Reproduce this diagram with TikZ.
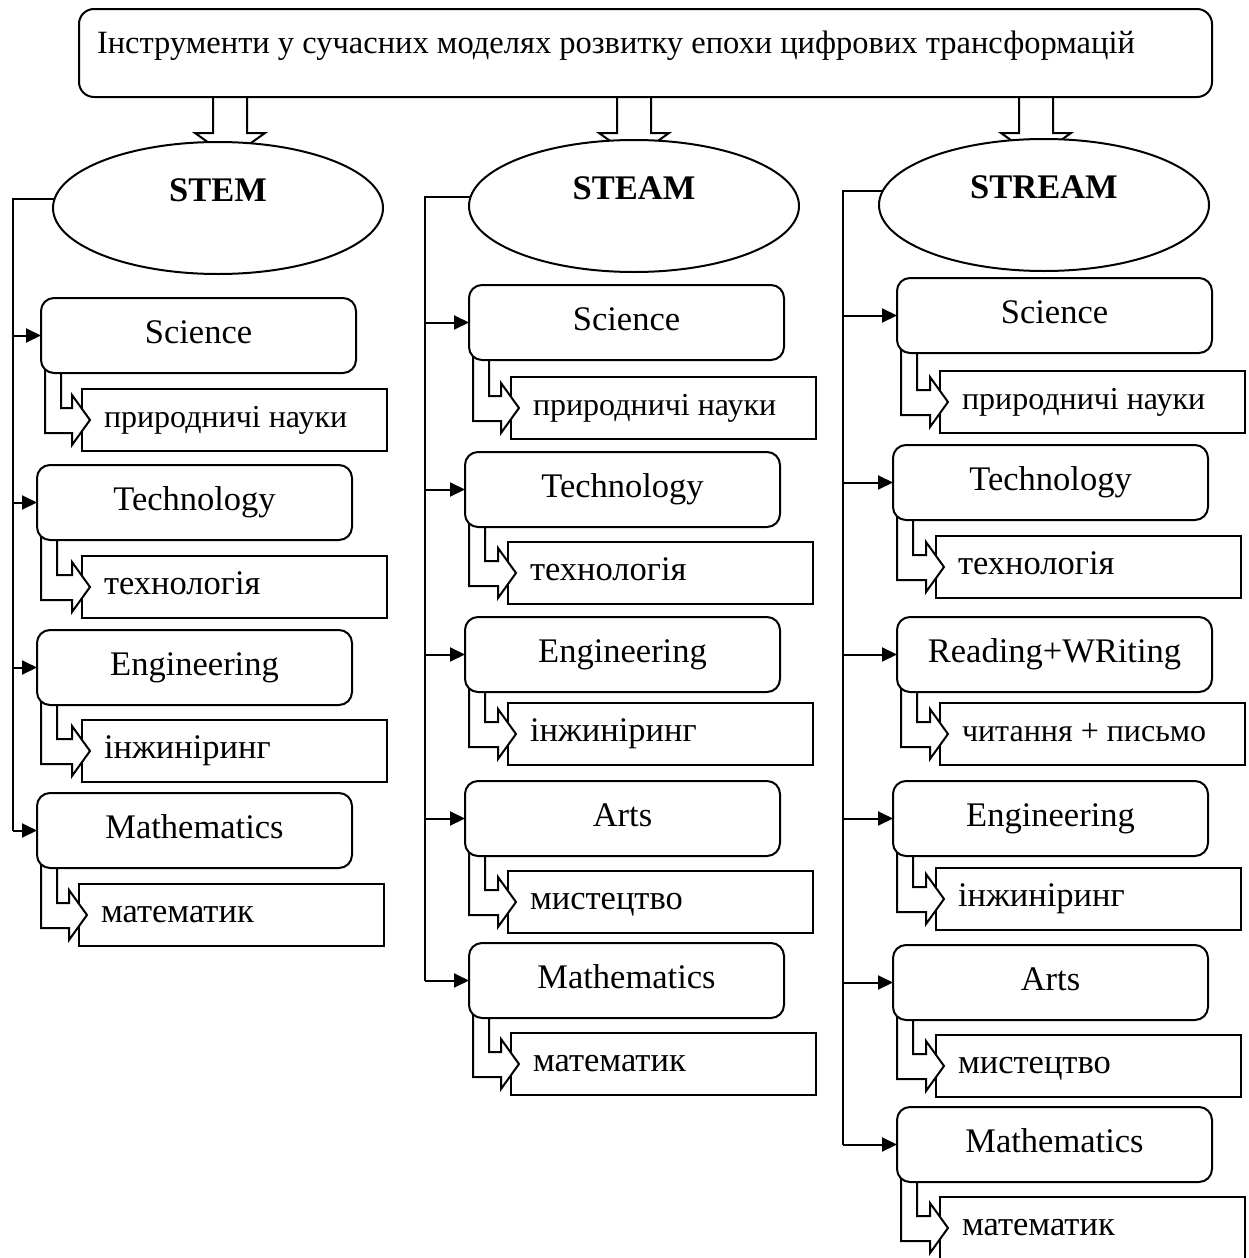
\documentclass[tikz,border=0pt]{standalone}
\usepackage{fontspec}
\setmainfont{Liberation Serif}
\usetikzlibrary{shapes.geometric,arrows.meta,calc}
\pgfdeclarelayer{back}
\pgfdeclarelayer{mid}
\pgfsetlayers{back,mid,main}
\newcommand\bentarrow[2]{%
  \path[lw,draw,fill=white] let \p1=(#1.south west), \p2=(#2.west) in
    (\x1+4pt,\y1+5pt) -- (\x1+4pt,\y2-13pt) -- (\x2-10pt,\y2-13pt) -- (\x2-10pt,\y2-25pt)
    -- (\x2+8pt,\y2) -- (\x2-10pt,\y2+25pt) -- (\x2-10pt,\y2+12pt) -- (\x1+20pt,\y2+12pt)
    -- (\x1+20pt,\y1+5pt);}
\begin{document}
\begin{tikzpicture}[x=1pt,y=-1pt,
  every node/.style={inner sep=0pt,outer sep=0pt},
  lw/.style={line width=2pt},
  txt/.style={font=\fontsize{34.5}{40}\selectfont},
  smalltxt/.style={font=\fontsize{32}{38}\selectfont},
  titlebox/.style={draw,lw,fill=white,rounded corners=15pt,font=\fontsize{32.5}{38}\selectfont,minimum height=88pt,
     text width=1097pt,inner xsep=18pt,inner ysep=22pt,text height=22pt,text depth=22pt,align=flush left},
  mainbox/.style={draw,lw,fill=white,rounded corners=13pt,txt,minimum width=315pt,
     minimum height=75pt,text height=24pt,text depth=8pt,align=center},
  subbox/.style={draw,lw,fill=white,txt,anchor=north west,minimum height=62pt,
     text width=261pt,inner xsep=22pt,text height=23pt,text depth=8pt,align=flush left},
  ell/.style={draw,lw,fill=white,ellipse,minimum width=330pt,minimum height=132pt,
     font=\fontsize{34.5}{40}\selectfont\bfseries},
  tip/.style={lw,-{Triangle[length=15pt,width=14pt]}}
]
\useasboundingbox (0,0) rectangle (1249,1258);

% title
\node[titlebox] (title) at (645.5,53) {Інструменти у сучасних моделях розвитку епохи цифрових трансформацій};

% block arrows
\begin{pgfonlayer}{mid}
\foreach \cx in {230,634,1036}{
  \draw[lw,fill=white] ({\cx-17},95) -- ({\cx-17},133) -- ({\cx-35},133) -- (\cx,158)
     -- ({\cx+35},133) -- ({\cx+17},133) -- ({\cx+17},95);
}
\end{pgfonlayer}

% ellipses
\node[ell] (stemE) at (218,208) {\raisebox{18pt}[\height][\depth]{STEM}};
\node[ell] (steamE) at (634,206) {\raisebox{18pt}[\height][\depth]{STEAM}};
\node[ell] (streamE) at (1044,205) {\raisebox{18pt}[\height][\depth]{STREAM}};

% ---------- STEM column ----------
\node[mainbox] (sci1) at (198.5,335.5) {Science};
\node[mainbox] (tec1) at (194.5,502.5) {Technology};
\node[mainbox] (eng1) at (194.5,667.5) {Engineering};
\node[mainbox] (mat1) at (194.5,830.5) {Mathematics};
\begin{pgfonlayer}{back}
\node[subbox,smalltxt] (ssci1) at (82,389) {природничі науки};
\node[subbox] (stec1) at (82,556) {технологія};
\node[subbox] (seng1) at (82,720) {інжиніринг};
\node[subbox] (smat1) at (79,884) {математик};
\end{pgfonlayer}

% ---------- STEAM column ----------
\node[mainbox] (sci2) at (626.5,322.5) {Science};
\node[mainbox] (tec2) at (622.5,489.5) {Technology};
\node[mainbox] (eng2) at (622.5,654.5) {Engineering};
\node[mainbox] (art2) at (622.5,818.5) {Arts};
\node[mainbox] (mat2) at (626.5,980.5) {Mathematics};
\begin{pgfonlayer}{back}
\node[subbox,smalltxt] (ssci2) at (511,377) {природничі науки};
\node[subbox] (stec2) at (508,542) {технологія};
\node[subbox] (seng2) at (508,703) {інжиніринг};
\node[subbox] (sart2) at (508,871) {мистецтво};
\node[subbox] (smat2) at (511,1033) {математик};
\end{pgfonlayer}

% ---------- STREAM column ----------
\node[mainbox] (sci3) at (1054.5,315.5) {Science};
\node[mainbox] (tec3) at (1050.5,482.5) {Technology};
\node[mainbox] (rw3) at (1054.5,654.5) {Reading+WRiting};
\node[mainbox] (eng3) at (1050.5,818.5) {Engineering};
\node[mainbox] (art3) at (1050.5,982.5) {Arts};
\node[mainbox] (mat3) at (1054.5,1144.5) {Mathematics};
\begin{pgfonlayer}{back}
\node[subbox,smalltxt] (ssci3) at (940,371) {природничі науки};
\node[subbox] (stec3) at (936,536) {технологія};
\node[subbox,smalltxt] (srw3) at (940,703) {читання + письмо};
\node[subbox] (seng3) at (936,868) {інжиніринг};
\node[subbox] (sart3) at (936,1035) {мистецтво};
\node[subbox] (smat3) at (940,1197) {математик};
\end{pgfonlayer}

% bent hollow arrows
\begin{pgfonlayer}{mid}
\foreach \m/\s in {sci1/ssci1,tec1/stec1,eng1/seng1,mat1/smat1,
                   sci2/ssci2,tec2/stec2,eng2/seng2,art2/sart2,mat2/smat2,
                   sci3/ssci3,tec3/stec3,rw3/srw3,eng3/seng3,art3/sart3,mat3/smat3}{
  \bentarrow{\m}{\s}
}
\end{pgfonlayer}

% trunks
\coordinate (t1) at (13,0);
\coordinate (t2) at (425,0);
\coordinate (t3) at (843,0);
\draw[lw] (stemE.177) -- (t1 |- stemE.177) -- (t1 |- mat1.west);
\draw[lw] (steamE.177) -- (t2 |- steamE.177) -- (t2 |- mat2.west);
\draw[lw] (streamE.175) -- (t3 |- streamE.175) -- (t3 |- mat3.west);
\foreach \b in {sci1,tec1,eng1,mat1}{\draw[tip] (t1 |- \b.west) -- (\b.west);}
\foreach \b in {sci2,tec2,eng2,art2,mat2}{\draw[tip] (t2 |- \b.west) -- (\b.west);}
\foreach \b in {sci3,tec3,rw3,eng3,art3,mat3}{\draw[tip] (t3 |- \b.west) -- (\b.west);}
\end{tikzpicture}
\end{document}
